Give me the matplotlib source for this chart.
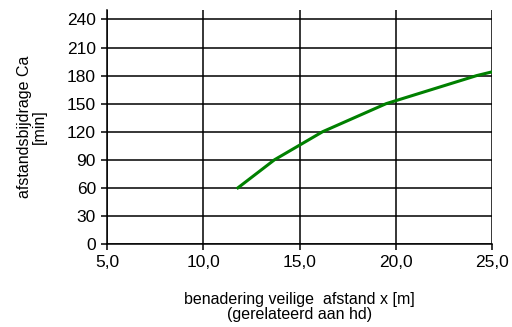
import numpy as np
import matplotlib
matplotlib.use('Agg')
import matplotlib.pyplot as plt

plt.rcParams['font.family'] = ['Liberation Sans', 'DejaVu Sans']

# curve
afstand = [11.8, 13.7, 16.2, 19.5, 24.2, 25.0]
bijdrage = [60, 90, 120, 150, 180, 184]

x_ticks = [5, 10, 15, 20, 25]
y_ticks = [0, 30, 60, 90, 120, 150, 180, 210, 240]

fig = plt.figure(figsize=(5.12, 3.27), dpi=100)
ax = fig.add_axes([0.209, 0.254, 0.752, 0.715])

ax.plot(afstand, bijdrage, color='#008000', linewidth=2.2, zorder=3)

ax.set_xlim(5, 25)
ax.set_ylim(0, 250)
ax.set_xticks(x_ticks)
ax.set_xticklabels([f'{t:.1f}'.replace('.', ',') for t in x_ticks])
ax.set_yticks(y_ticks)
ax.grid(True, color='black', linewidth=1.1)
ax.set_axisbelow(True)

for side in ['top', 'right']:
    ax.spines[side].set_visible(False)
for side in ['left', 'bottom']:
    ax.spines[side].set_linewidth(1.1)
ax.tick_params(direction='out', length=4, width=1.1, labelsize=12.5, pad=4)

ax.set_xlabel('benadering veilige  afstand x [m]\n(gerelateerd aan hd)', fontsize=11.5,
              labelpad=16, linespacing=1.0)
ax.set_ylabel('afstandsbijdrage Ca\n[min]', fontsize=11.5, labelpad=14, linespacing=1.0)

fig.savefig('out.png', dpi=100)
